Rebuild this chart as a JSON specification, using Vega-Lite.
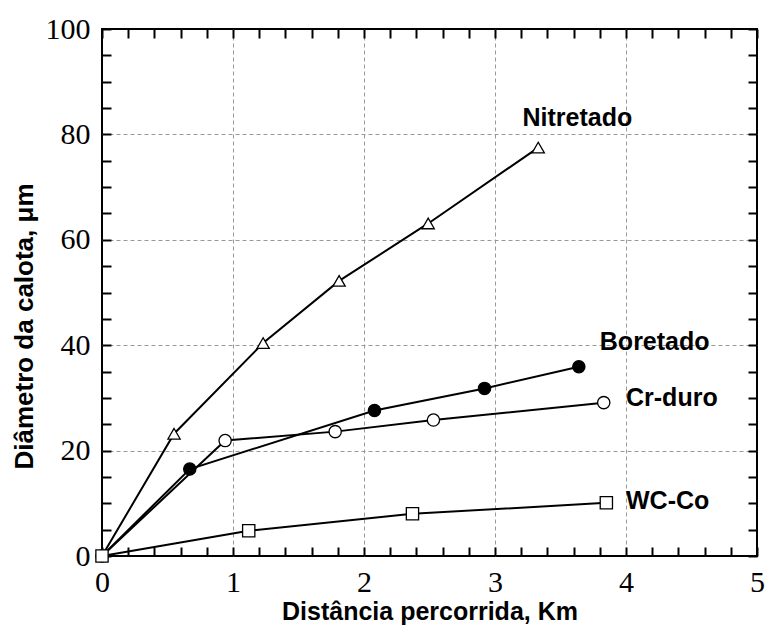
{
  "$schema": "https://vega.github.io/schema/vega-lite/v6.json",
  "width": 655,
  "height": 527,
  "autosize": {"type": "none"},
  "padding": {"left": 102, "top": 29, "right": 14, "bottom": 75},
  "background": "white",
  "config": {
    "view": {"stroke": "black", "strokeWidth": 2},
    "axis": {
      "labelFont": "Liberation Serif",
      "labelFontSize": 30,
      "labelColor": "black",
      "labelOverlap": false,
      "labelFlush": false,
      "titleFont": "Liberation Sans",
      "titleFontWeight": "bold",
      "titleColor": "black",
      "gridColor": "#999999",
      "gridDash": [4, 3],
      "gridWidth": 1
    }
  },
  "datasets": {
    "curves": [
      {"series": "Nitretado", "x": 0, "y": 0},
      {"series": "Nitretado", "x": 0.55, "y": 23.2},
      {"series": "Nitretado", "x": 1.23, "y": 40.4},
      {"series": "Nitretado", "x": 1.81, "y": 52.2},
      {"series": "Nitretado", "x": 2.49, "y": 63.1},
      {"series": "Nitretado", "x": 3.33, "y": 77.5},
      {"series": "Boretado", "x": 0, "y": 0},
      {"series": "Boretado", "x": 0.67, "y": 16.5},
      {"series": "Boretado", "x": 2.08, "y": 27.6},
      {"series": "Boretado", "x": 2.92, "y": 31.8},
      {"series": "Boretado", "x": 3.64, "y": 35.9},
      {"series": "Cr-duro", "x": 0, "y": 0},
      {"series": "Cr-duro", "x": 0.94, "y": 21.9},
      {"series": "Cr-duro", "x": 1.78, "y": 23.6},
      {"series": "Cr-duro", "x": 2.53, "y": 25.8},
      {"series": "Cr-duro", "x": 3.83, "y": 29.1},
      {"series": "WC-Co", "x": 0, "y": 0},
      {"series": "WC-Co", "x": 1.12, "y": 4.8},
      {"series": "WC-Co", "x": 2.37, "y": 8.0},
      {"series": "WC-Co", "x": 3.85, "y": 10.1}
    ],
    "labels": [
      {"label": "Nitretado", "x": 3.21, "y": 83.1},
      {"label": "Boretado", "x": 3.8, "y": 40.6},
      {"label": "Cr-duro", "x": 4.0, "y": 29.9},
      {"label": "WC-Co", "x": 4.0, "y": 10.5}
    ]
  },
  "resolve": {"axis": {"x": "independent", "y": "independent"}},
  "layer": [
    {
      "data": {"name": "curves"},
      "mark": {"type": "line", "color": "black", "strokeWidth": 2},
      "encoding": {
        "x": {
          "field": "x", "type": "quantitative",
          "scale": {"domain": [0, 5], "nice": false, "zero": false},
          "axis": {
            "orient": "bottom",
            "domain": false,
            "ticks": true,
            "tickSize": -9,
            "tickWidth": 2,
            "tickColor": "black",
            "values": [0,0.2,0.4,0.6,0.8,1,1.2,1.4,1.6,1.8,2,2.2,2.4,2.6,2.8,3,3.2,3.4,3.6,3.8,4,4.2,4.4,4.6,4.8,5],
            "labelExpr": "abs(datum.value-round(datum.value))<0.001 ? format(datum.value,'d') : ''",
            "labelPadding": 20,
            "title": "Distância percorrida, Km",
            "titleFontSize": 25,
            "titlePadding": 2,
            "grid": true,
            "gridOpacity": {"condition": {"test": "datum.value>0.5 && datum.value<4.5 && abs(datum.value-round(datum.value))<0.001", "value": 1}, "value": 0}
          }
        },
        "y": {
          "field": "y", "type": "quantitative",
          "scale": {"domain": [0, 100], "nice": false},
          "axis": {
            "orient": "left",
            "domain": false,
            "ticks": true,
            "tickSize": -9,
            "tickWidth": 2,
            "tickColor": "black",
            "values": [0,5,10,15,20,25,30,35,40,45,50,55,60,65,70,75,80,85,90,95,100],
            "labelExpr": "datum.value % 20 === 0 ? format(datum.value,'d') : ''",
            "labelPadding": 21,
            "labelBaseline": "middle",
            "title": "Diâmetro da calota, μm",
            "titleFontSize": 26,
            "titlePadding": 8,
            "titleY": 297,
            "grid": true,
            "gridOpacity": {"condition": {"test": "datum.value>10 && datum.value<90 && datum.value % 20 === 0", "value": 1}, "value": 0}
          }
        },
        "detail": {"field": "series"}
      }
    },
    {
      "data": {"name": "curves"},
      "transform": [{"filter": "datum.x > 0 || datum.series === 'WC-Co' || datum.series === 'Cr-duro'"}],
      "mark": {"type": "point", "filled": true, "stroke": "black", "strokeWidth": 1.3, "size": 150, "opacity": 1},
      "encoding": {
        "x": {
          "field": "x", "type": "quantitative",
          "axis": {
            "orient": "top", "domain": false, "ticks": true, "tickSize": -9, "tickWidth": 2, "tickColor": "black",
            "title": null, "labels": false, "grid": false,
            "values": [0,0.2,0.4,0.6,0.8,1,1.2,1.4,1.6,1.8,2,2.2,2.4,2.6,2.8,3,3.2,3.4,3.6,3.8,4,4.2,4.4,4.6,4.8,5]
          }
        },
        "y": {
          "field": "y", "type": "quantitative",
          "axis": {
            "orient": "right", "domain": false, "ticks": true, "tickSize": -9, "tickWidth": 2, "tickColor": "black",
            "title": null, "labels": false, "grid": false,
            "values": [0,5,10,15,20,25,30,35,40,45,50,55,60,65,70,75,80,85,90,95,100]
          }
        },
        "shape": {
          "field": "series", "type": "nominal",
          "scale": {"domain": ["Nitretado", "Boretado", "Cr-duro", "WC-Co"], "range": ["triangle-up", "circle", "circle", "square"]},
          "legend": null
        },
        "fill": {
          "field": "series", "type": "nominal",
          "scale": {"domain": ["Nitretado", "Boretado", "Cr-duro", "WC-Co"], "range": ["white", "black", "white", "white"]},
          "legend": null
        }
      }
    },
    {
      "data": {"name": "labels"},
      "mark": {"type": "text", "align": "left", "baseline": "middle", "font": "Liberation Sans", "fontWeight": "bold", "fontSize": 25, "color": "black"},
      "encoding": {
        "x": {"field": "x", "type": "quantitative", "axis": null},
        "y": {"field": "y", "type": "quantitative", "axis": null},
        "text": {"field": "label"}
      }
    }
  ]
}
